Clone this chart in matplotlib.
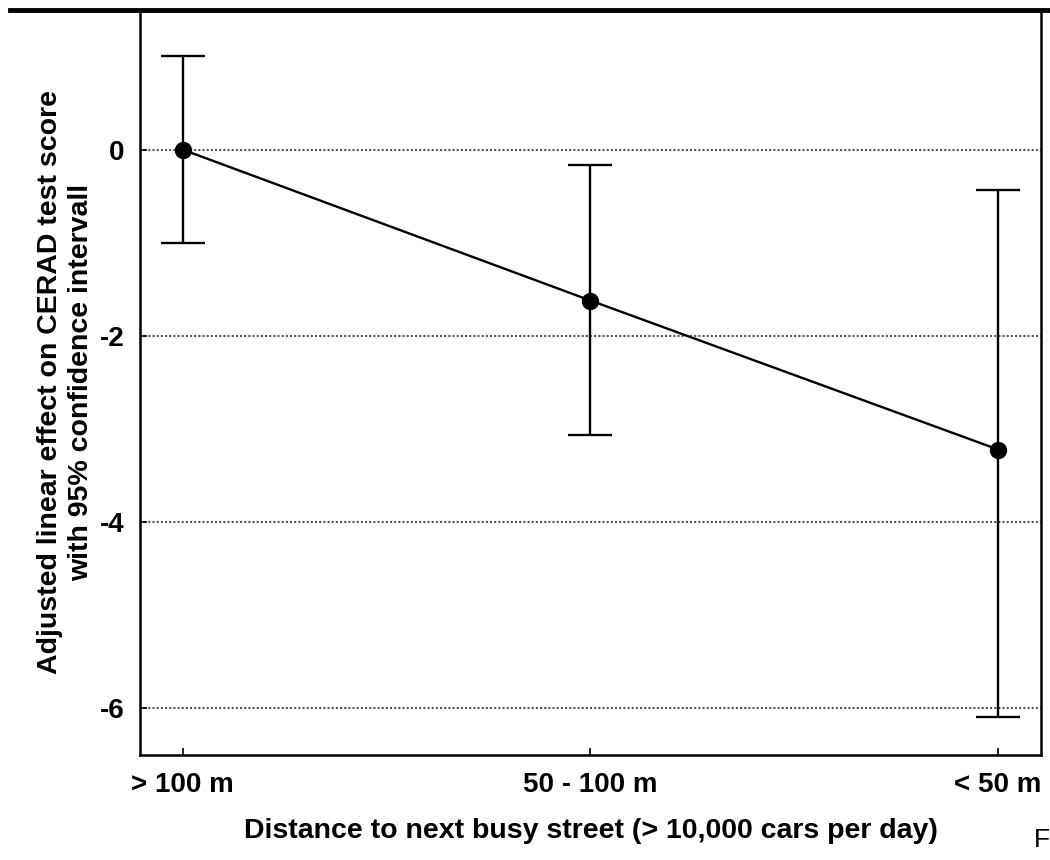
import matplotlib.pyplot as plt
from matplotlib.lines import Line2D

plt.rcParams['font.family'] = ['Liberation Sans', 'DejaVu Sans']

categories = ['> 100 m', '50 - 100 m', '< 50 m']
effect = [0.0, -1.62, -3.22]
ci_low = [-1.0, -3.06, -6.09]
ci_high = [1.01, -0.17, -0.43]
y_ticks = [0, -2, -4, -6]

fig = plt.figure(figsize=(10.5, 8.6), dpi=100)
ax = fig.add_axes([0.1333, 0.1221, 0.8581, 0.8663])

x = list(range(len(categories)))
err_lo = [e - lo for e, lo in zip(effect, ci_low)]
err_hi = [hi - e for e, hi in zip(effect, ci_high)]

for y in y_ticks:
    ax.axhline(y, color='#555555', lw=1.5, ls=(0, (1, 1)), zorder=1)

ax.errorbar(x, effect, yerr=[err_lo, err_hi], fmt='none', ecolor='black',
            elinewidth=1.7, capsize=16, capthick=1.7, zorder=2)
ax.plot(x, effect, color='black', lw=1.7, marker='o', markersize=11.5, zorder=3)

ax.set_xlim(-0.105, 2.105)
ax.set_ylim(-6.5, 1.5)
ax.set_xticks(x)
ax.set_xticklabels(categories, fontsize=20, fontweight='bold')
ax.set_yticks(y_ticks)
ax.set_yticklabels([str(v) for v in y_ticks], fontsize=20, fontweight='bold')
ax.tick_params(direction='in', length=5, width=1.2)
ax.tick_params(axis='x', pad=12)
ax.tick_params(axis='y', pad=11)

ax.set_xlabel('Distance to next busy street (> 10,000 cars per day)',
              fontsize=20.5, fontweight='bold', labelpad=15)
ax.set_ylabel('Adjusted linear effect on CERAD test score\nwith 95% confidence intervall',
              fontsize=20.5, fontweight='bold', labelpad=4, linespacing=1.27)

for side in ['left', 'right', 'bottom']:
    ax.spines[side].set_linewidth(1.8)
ax.spines['top'].set_visible(False)

fig.add_artist(Line2D([10 / 1050, 1.0], [1 - 10 / 860, 1 - 10 / 860],
                      color='black', lw=3.5, transform=fig.transFigure))
fig.text(1034 / 1050, 1 - 840 / 860, 'F', fontsize=19, va='center', ha='left')

fig.savefig('out.png', dpi=100)
